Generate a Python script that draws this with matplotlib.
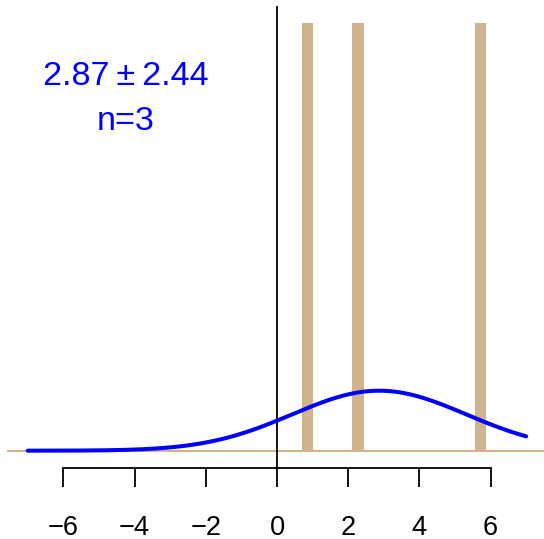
import numpy as np
import matplotlib
matplotlib.use('Agg')
from matplotlib import pyplot as plt

# observed values (drawn as tall tan bars)
values = [0.86, 2.28, 5.72]
# fitted normal shown as blue curve
mean = 2.87
sd = 2.44
n = 3
xticks = [-6, -4, -2, 0, 2, 4, 6]

plt.rcParams['font.family'] = ['Liberation Sans', 'DejaVu Sans']

fig = plt.figure(figsize=(5.44, 5.39), dpi=100)
ax = fig.add_axes([0, 0, 1, 1])
ax.set_xlim(-7.781, 7.5)
ax.set_ylim(-0.2406, 1.228)
ax.patch.set_visible(False)

bar_top = 1.166
ax.bar(values, bar_top, width=0.326, color='tan', zorder=1)

ax.axhline(0, xmin=8 / 544, color='tan', lw=1.5, zorder=0)

xs = np.linspace(-7, 7, 400)
dens = np.exp(-0.5 * ((xs - mean) / sd) ** 2) / (sd * np.sqrt(2 * np.pi))
ax.plot(xs, dens, color='blue', lw=2.9, solid_capstyle='round', zorder=3)

# vertical reference line at zero
ax.plot([0, 0], [-0.0458, 1.209], color='black', lw=1.3, zorder=2)

for s in ['top', 'right', 'left']:
    ax.spines[s].set_visible(False)
ax.spines['bottom'].set_position(('data', -0.0458))
ax.spines['bottom'].set_bounds(-6, 6)
ax.spines['bottom'].set_linewidth(1.3)
ax.set_xticks(xticks)
ax.set_xticklabels([str(t).replace('-', '\u2212') for t in xticks])
ax.tick_params(axis='x', direction='out', length=14, width=1.3, pad=20, labelsize=19.6)
ax.set_yticks([])

ax.text(-4.24, 0.9965, '2.87\u2009\u00b1\u20092.44', color='blue', fontsize=24.6,
        ha='center', va='baseline')
ax.text(-4.24, 0.874, 'n=%d' % n, color='blue', fontsize=24.6,
        ha='center', va='baseline')

fig.savefig('out.png', dpi=100)
